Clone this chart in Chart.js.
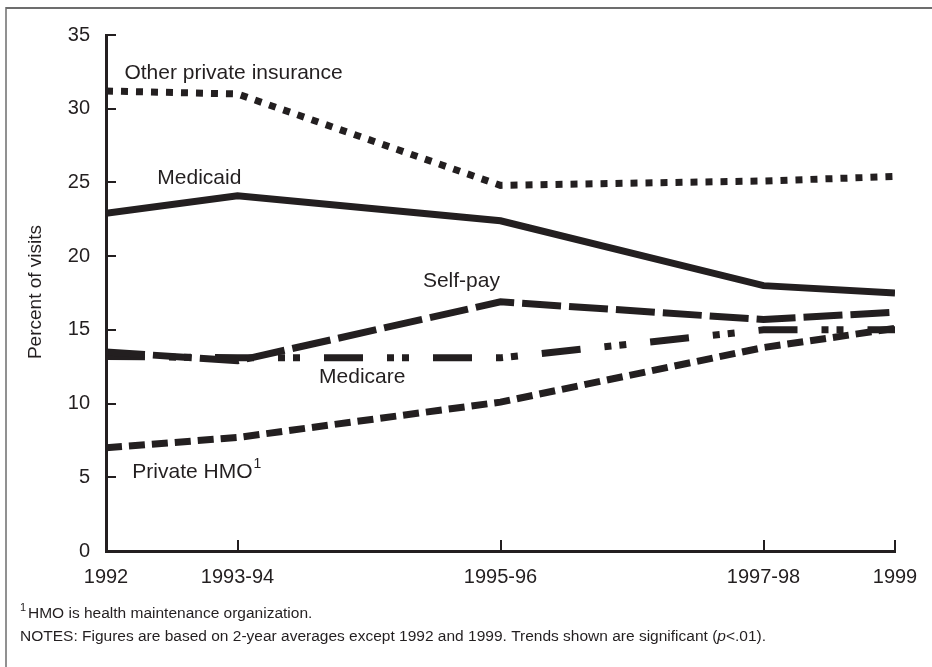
<!DOCTYPE html>
<html>
<head>
<meta charset="utf-8">
<script src="https://cdn.jsdelivr.net/npm/chart.js@4.4.1/dist/chart.umd.min.js"></script>
<style>
  html, body { margin: 0; padding: 0; background: #fff; }
  #wrap { position: relative; width: 932px; height: 667px; }
</style>
</head>
<body>
<div id="wrap"><canvas id="chart" width="932" height="667"></canvas></div>
<script>
/* ===== DATA ===== */
const PERIODS = ["1992", "1993-94", "1995-96", "1997-98", "1999"];
const SLOTS = [0, 1, 3, 5, 6]; // 1993-94 etc. are 2-year averages
const Y_TICKS = [0, 5, 10, 15, 20, 25, 30, 35];

const otherPrivate = [31.2, 31.0, 24.8, 25.1, 25.4];
const medicaid = [22.9, 24.1, 22.4, 18.0, 17.5];
const selfPay = [13.5, 12.9, 16.9, 15.7, 16.2];
const medicare = [13.2, 13.1, 13.1, 15.0, 15.0];
const privateHmo = [7.0, 7.7, 10.1, 13.8, 15.1];

const INK = "#231f20";
const FONT = "'Liberation Sans', Arial, Helvetica, sans-serif";

function points(values) {
  return values.map((v, i) => ({ x: SLOTS[i], y: v }));
}

function series(label, values, dash) {
  return {
    label,
    data: points(values),
    borderColor: INK,
    backgroundColor: INK,
    borderWidth: 7,
    borderDash: dash,
    borderCapStyle: "butt",
    borderJoinStyle: "miter",
    pointRadius: 0,
    tension: 0,
    fill: false,
  };
}

/* ===== LINE LABELS (in data units) ===== */
const lineLabels = [
  { text: "Other private insurance", x: 0.14, y: 32.4 },
  { text: "Medicaid", x: 0.39, y: 25.3 },
  { text: "Self-pay", x: 2.41, y: 18.3 },
  { text: "Medicare", x: 1.62, y: 11.8 },
  { text: "Private HMO", x: 0.2, y: 5.36, sup: "1" },
];

/* ===== PLUGIN: frame, inward ticks, labels, notes ===== */
const decor = {
  id: "decor",
  beforeDraw(chart) {
    const c = chart.ctx;
    c.save();
    c.strokeStyle = "#6d6d6d";
    c.lineWidth = 2;
    c.beginPath();
    c.moveTo(6, 8);
    c.lineTo(932, 8);
    c.stroke();
    c.lineWidth = 1.5;
    c.beginPath();
    c.moveTo(6, 7);
    c.lineTo(6, 667);
    c.stroke();
    c.restore();
  },
  afterDraw(chart) {
    const c = chart.ctx;
    const xs = chart.scales.x;
    const ys = chart.scales.y;
    const area = chart.chartArea;
    c.save();
    c.strokeStyle = INK;
    c.lineWidth = 2;
    Y_TICKS.forEach((v) => {
      const py = Math.round(ys.getPixelForValue(v));
      c.beginPath();
      c.moveTo(area.left, py);
      c.lineTo(area.left + 10, py);
      c.stroke();
    });
    SLOTS.forEach((v) => {
      const px = Math.round(xs.getPixelForValue(v));
      c.beginPath();
      c.moveTo(px, area.bottom);
      c.lineTo(px, area.bottom - 11);
      c.stroke();
    });

    c.fillStyle = INK;
    c.textBaseline = "middle";
    c.textAlign = "left";
    lineLabels.forEach((l) => {
      const px = xs.getPixelForValue(l.x);
      const py = ys.getPixelForValue(l.y);
      c.font = "21px " + FONT;
      c.fillText(l.text, px, py);
      if (l.sup) {
        const w = c.measureText(l.text).width;
        c.font = "14px " + FONT;
        c.fillText(l.sup, px + w + 1, py - 8);
      }
    });

    // axis title
    c.save();
    c.translate(36, 292);
    c.rotate(-Math.PI / 2);
    c.textAlign = "center";
    c.font = "19px " + FONT;
    c.fillText("Percent of visits", 0, 0);
    c.restore();

    // notes
    const note = "NOTES: Figures are based on 2-year averages except 1992 and 1999. Trends shown are significant (";
    c.textAlign = "left";
    c.font = "11px " + FONT;
    c.fillText("1", 20, 608);
    c.font = "15.5px " + FONT;
    c.fillText("HMO is health maintenance organization.", 28, 614);
    c.fillText(note, 20, 637);
    let w = c.measureText(note).width;
    c.font = "italic 15.5px " + FONT;
    c.fillText("p", 20 + w, 637);
    w += c.measureText("p").width;
    c.font = "15.5px " + FONT;
    c.fillText("<.01).", 20 + w, 637);
    c.restore();
  },
};

/* ===== CHART ===== */
new Chart(document.getElementById("chart"), {
  type: "line",
  data: {
    datasets: [
      series("Other private insurance", otherPrivate, [7, 8]),
      series("Medicaid", medicaid, []),
      series("Self-pay", selfPay, [39, 8]),
      series("Medicare", medicare, [39, 24, 7, 8, 7, 24]),
      series("Private HMO", privateHmo, [16, 7]),
    ],
  },
  options: {
    responsive: false,
    animation: false,
    devicePixelRatio: 1,
    layout: { padding: { top: 35, right: 37, left: 0, bottom: 0 } },
    plugins: { legend: { display: false }, tooltip: { enabled: false } },
    scales: {
      x: {
        type: "linear",
        min: 0,
        max: 6,
        afterBuildTicks: (s) => { s.ticks = SLOTS.map((v) => ({ value: v })); },
        afterFit: (s) => { s.height = 116; },
        grid: { drawOnChartArea: false, drawTicks: false },
        border: { display: true, color: INK, width: 3 },
        ticks: {
          autoSkip: false,
          maxRotation: 0,
          padding: 14,
          color: INK,
          font: { family: FONT, size: 20 },
          callback: (v) => PERIODS[SLOTS.indexOf(v)],
        },
      },
      y: {
        min: 0,
        max: 35,
        afterBuildTicks: (s) => { s.ticks = Y_TICKS.map((v) => ({ value: v })); },
        afterFit: (s) => { s.width = 106; },
        grid: { drawOnChartArea: false, drawTicks: false },
        border: { display: true, color: INK, width: 3 },
        ticks: {
          padding: 16,
          color: INK,
          font: { family: FONT, size: 20 },
        },
      },
    },
  },
  plugins: [decor],
});
</script>
</body>
</html>
